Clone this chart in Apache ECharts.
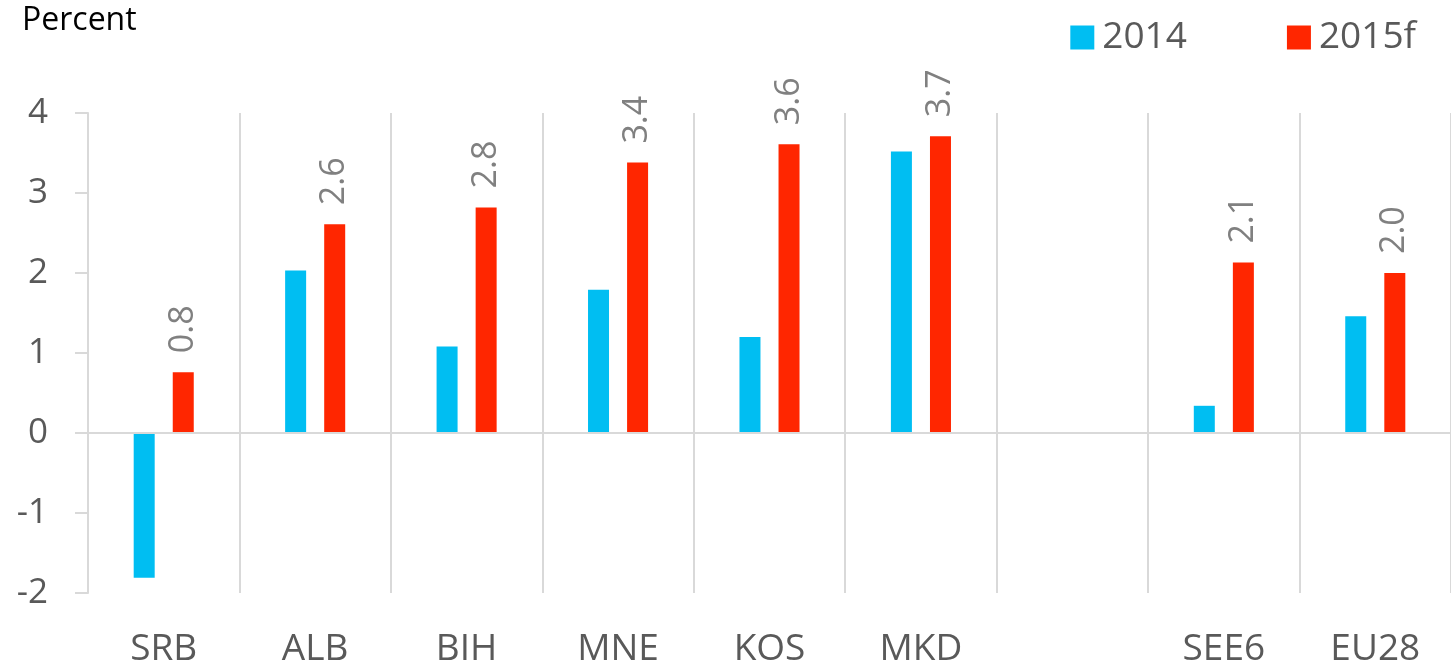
<!DOCTYPE html>
<html>
<head>
<meta charset="utf-8">
<script src="https://cdn.jsdelivr.net/npm/echarts@6/dist/echarts.min.js"></script>
<style>
  html, body { margin: 0; padding: 0; background: #fff; }
  #chart { width: 1451px; height: 671px; }
</style>
</head>
<body>
<div id="chart"></div>
<script>
// categories (the empty one is the gap before the aggregates)
var categories = ['SRB', 'ALB', 'BIH', 'MNE', 'KOS', 'MKD', '', 'SEE6', 'EU28'];
var values2014 = [-1.81, 2.03, 1.08, 1.79, 1.2, 3.52, null, 0.34, 1.46];
var values2015 = [0.76, 2.61, 2.82, 3.38, 3.61, 3.71, null, 2.13, 2.0];
var yTicks = [-2, -1, 0, 1, 2, 3, 4];

var fontFamily = 'Open Sans, Liberation Sans, sans-serif';
var grey = '#595959';

var chart = echarts.init(document.getElementById('chart'), null, {renderer: 'canvas'});

var option = {
  animation: false,
  textStyle: {fontFamily: fontFamily},
  title: {
    text: 'Percent',
    left: 17,
    top: 0,
    textStyle: {fontFamily: fontFamily, fontSize: 32, fontWeight: 'normal', color: '#000'}
  },
  legend: {
    right: 30,
    top: 14,
    itemWidth: 24,
    itemHeight: 24,
    itemGap: 100,
    icon: 'rect',
    textStyle: {fontFamily: fontFamily, fontSize: 37, color: grey, padding: [0, 0, 0, 3]},
    data: ['2014', '2015f']
  },
  grid: {
    left: 88,
    top: 113,
    right: -5,
    bottom: 78,
    containLabel: false
  },
  xAxis: {
    type: 'category',
    data: categories,
    axisLine: {show: false, onZero: false},
    axisTick: {show: false},
    splitLine: {show: true, lineStyle: {color: '#d9d9d9', width: 2}},
    axisLabel: {
      margin: 38,
      fontSize: 37,
      color: grey,
      fontFamily: fontFamily,
      interval: 0
    }
  },
  yAxis: {
    type: 'value',
    min: yTicks[0],
    max: yTicks[yTicks.length - 1],
    interval: 1,
    axisLine: {show: true, lineStyle: {color: '#d9d9d9', width: 2}},
    axisTick: {show: true, length: 13, lineStyle: {color: '#d9d9d9', width: 2}},
    splitLine: {show: false},
    axisLabel: {
      margin: 40,
      fontSize: 35,
      color: grey,
      fontFamily: fontFamily
    }
  },
  series: [
    {
      name: '2014',
      type: 'bar',
      data: values2014,
      barWidth: 21,
      barGap: '86%',
      itemStyle: {color: '#00BEF2'},
      markLine: {
        silent: true,
        symbol: 'none',
        label: {show: false},
        lineStyle: {color: '#d9d9d9', width: 2, type: 'solid'},
        data: [{yAxis: 0}]
      }
    },
    {
      name: '2015f',
      type: 'bar',
      data: values2015,
      barWidth: 21,
      barGap: '86%',
      itemStyle: {color: '#FF2600'},
      label: {
        show: true,
        position: 'top',
        rotate: 90,
        align: 'left',
        verticalAlign: 'middle',
        distance: 19,
        fontSize: 34,
        color: '#808080',
        fontFamily: fontFamily,
        formatter: function (p) {
          return p.value == null ? '' : p.value.toFixed(1);
        }
      }
    }
  ]
};

chart.setOption(option);
</script>
</body>
</html>
